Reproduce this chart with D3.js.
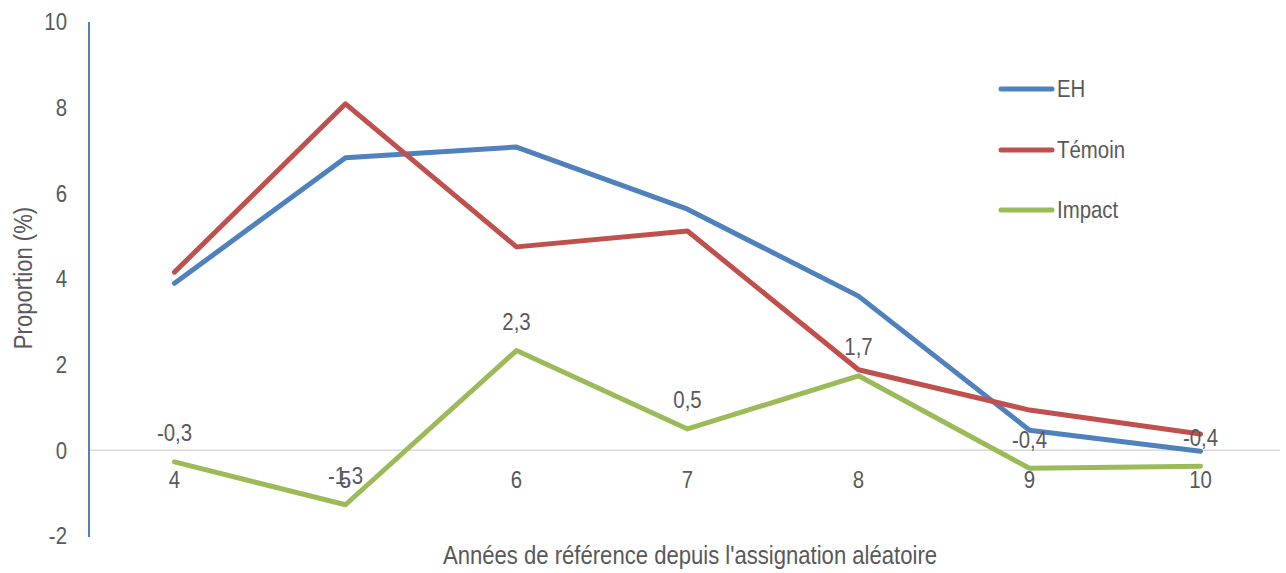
<!DOCTYPE html>
<html><head><meta charset="utf-8">
<script src="https://cdn.jsdelivr.net/npm/d3@7"></script>
<style>
body{margin:0;background:#fff;}
text{font-family:"Liberation Sans",Arial,sans-serif;fill:#595959;}
</style></head><body>
<svg id="c" width="1286" height="573"></svg>
<script>
const categories = [4,5,6,7,8,9,10];
const eh = [3.9, 6.83, 7.08, 5.63, 3.6, 0.47, -0.02];
const temoin = [4.16, 8.09, 4.75, 5.12, 1.88, 0.94, 0.38];
const impact = [-0.27, -1.27, 2.33, 0.5, 1.74, -0.42, -0.37];
const yTicks = [-2,0,2,4,6,8,10];
const seriesNames = ["EH","Témoin","Impact"];
const colors = ["#4F81BD","#C0504D","#9BBB59"];

(function(){
const svg = d3.select("#c");
const mLeft = 89, mRight = 1286, mTop = 22, mBottom = 536;
const x = d3.scalePoint().domain(categories).range([mLeft, mRight]).padding(0.5);
const y = d3.scaleLinear().domain([-2,10]).range([mBottom, mTop]);
const SX = 0.85;
function txt(px, py, s, size, anchor, rot){
  return svg.append("text")
    .attr("transform", `translate(${px},${py})` + (rot ? ` rotate(${rot})` : "") + ` scale(${SX},1)`)
    .attr("dy","0.35em").attr("text-anchor",anchor||"middle").attr("font-size",size).text(s);
}

svg.append("line").attr("x1",mLeft).attr("x2",1280).attr("y1",y(0)).attr("y2",y(0))
  .attr("stroke","#D9D9D9").attr("stroke-width",1.5);
svg.append("line").attr("x1",mLeft).attr("x2",mLeft).attr("y1",y(10)).attr("y2",y(-2)+1)
  .attr("stroke","#4F81BD").attr("stroke-width",2);

yTicks.forEach(d=>txt(67, y(d), d, 24, "end"));
categories.forEach(d=>txt(x(d), y(0)+29, d, 24, "middle"));

txt(23, 278, "Proportion (%)", 26, "middle", -90);
txt(690, 555, "Années de référence depuis l'assignation aléatoire", 26, "middle");

const line = d3.line().x((d,i)=>x(categories[i])).y(d=>y(d));
[eh, temoin, impact].forEach((s,k)=>{
  svg.append("path").datum(s).attr("d",line).attr("fill","none")
    .attr("stroke",colors[k]).attr("stroke-width",5).attr("stroke-linejoin","round").attr("stroke-linecap","round");
});

const fmt = v => (Math.round(v*10)/10).toFixed(1).replace(".",",");
impact.forEach((d,i)=>txt(x(categories[i]), y(d)-29, fmt(d), 24, "middle"));

const lg = [89,150,210];
seriesNames.forEach((n,k)=>{
  svg.append("line").attr("x1",1001).attr("x2",1052).attr("y1",lg[k]).attr("y2",lg[k])
    .attr("stroke",colors[k]).attr("stroke-width",5).attr("stroke-linecap","round");
  txt(1057, lg[k], n, 24, "start");
});
})();
</script></body></html>
